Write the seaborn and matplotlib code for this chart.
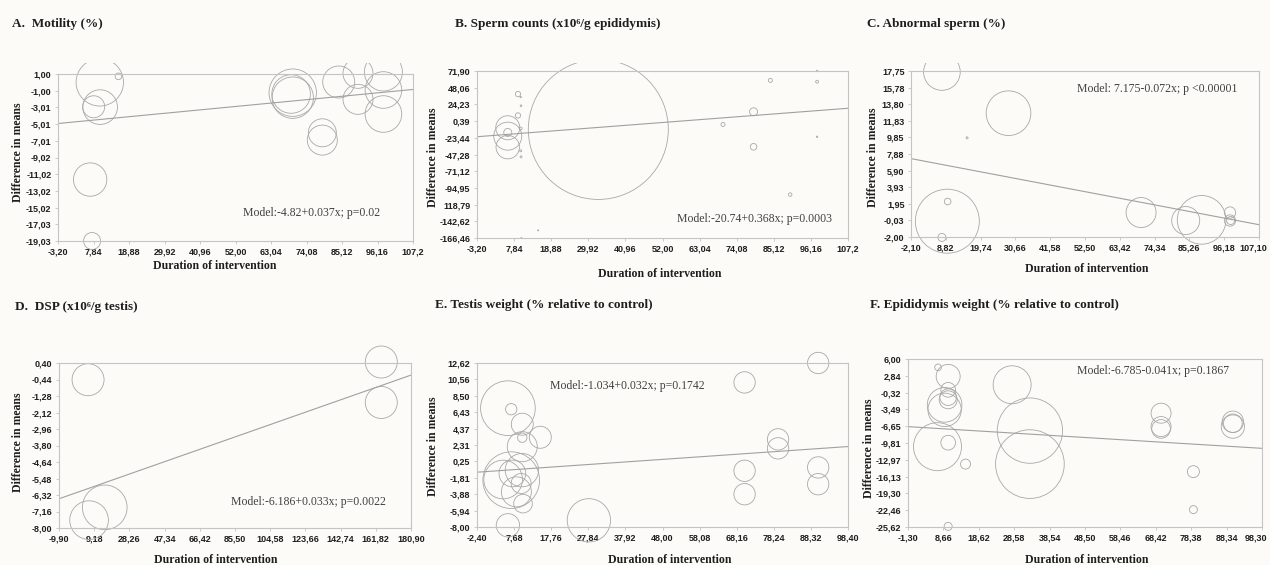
import matplotlib
matplotlib.use("Agg")
import matplotlib.pyplot as plt
import matplotlib.transforms as mtransforms
import numpy as np
import pandas as pd
import seaborn as sns

# ---------------- data ----------------
# A. Motility (%)
a_duration = [9.8, 15.6, 9.9, 7.9, 6.8, 7.4, 69.8, 69.8, 69.3, 79.0, 79.0, 84.1, 90.1, 90.1, 98.0, 98.0, 98.0]
a_diff = [0.0, 0.72, -2.97, -2.93, -11.66, -19.03, -1.24, -1.84, -1.40, -6.05, -6.93, 0.04, 1.08, -2.04, 1.24, -0.92, -3.80]
a_weight = [562, 11, 300, 121, 278, 72, 562, 428, 372, 196, 225, 256, 225, 225, 361, 335, 335]
a_model = (-4.82, 0.037)
a_xlabels = ["-3,20", "7,84", "18,88", "29,92", "40,96", "52,00", "63,04", "74,08", "85,12", "96,16", "107,2"]
a_ylabels = ["1,00", "-1,00", "-3,01", "-5,01", "-7,01", "-9,02", "-11,02", "-13,02", "-15,02", "-17,03", "-19,03"]

# B. Sperm counts
b_duration = [32.9, 5.95, 5.95, 5.95, 5.95, 9.0, 9.8, 9.9, 9.0, 9.8, 9.8, 9.9, 15.0, 10.0, 70.0, 79.1, 79.1, 84.1, 98.0, 98.0, 98.0, 90.0]
b_diff = [-11.5, -9.1, -21.1, -36.8, -15.8, 39.0, 34.7, 22.3, 8.5, -10.1, -42.0, -50.6, -155.5, -166.5, -4.4, 13.7, -36.3, 58.5, 71.9, 56.6, -22.0, -104.5]
b_weight = [4900, 144, 196, 137, 16, 7, 0.5, 0.7, 7, 2, 1, 1, 0.3, 0.3, 4, 16, 11, 4, 0.5, 2, 0.5, 3]
b_model = (-20.74, 0.368)
b_xlabels = ["-3,20", "7,84", "18,88", "29,92", "40,96", "52,00", "63,04", "74,08", "85,12", "96,16", "107,2"]
b_ylabels = ["71,90", "48,06", "24,23", "0,39", "-23,44", "-47,28", "-71,12", "-94,95", "118,79", "-142,62", "-166,46"]

# C. Abnormal sperm (%)
c_duration = [7.6, 28.5, 15.5, 9.3, 9.4, 7.6, 70.1, 84.1, 89.1, 98.0, 98.0, 98.2]
c_diff = [17.63, 12.73, 9.80, -0.12, 2.22, -2.05, 0.91, -0.04, 0.04, 0.91, -0.04, -0.04]
c_weight = [336, 499, 1, 1024, 11, 16, 225, 196, 592, 32, 32, 16]
c_model = (7.175, -0.072)
c_xlabels = ["-2,10", "8,82", "19,74", "30,66", "41,58", "52,50", "63,42", "74,34", "85,26", "96,18", "107,10"]
c_ylabels = ["17,75", "15,78", "13,80", "11,83", "9,85", "7,88", "5,90", "3,93", "1,95", "-0,03", "-2,00"]

# D. DSP
d_duration = [5.85, 164.8, 164.8, 14.9, 6.4]
d_diff = [-0.45, 0.45, -1.61, -6.95, -7.60]
d_weight = [256, 256, 256, 499, 374]
d_model = (-6.186, 0.033)
d_xlabels = ["-9,90", "9,18", "28,26", "47,34", "66,42", "85,50", "104,58", "123,66", "142,74", "161,82", "180,90"]
d_ylabels = ["0,40", "-0,44", "-1,28", "-2,12", "-2,96", "-3,80", "-4,64", "-5,48", "-6,32", "-7,16", "-8,00"]

# E. Testis weight
e_duration = [6.0, 6.9, 9.9, 9.9, 14.8, 9.9, 6.9, 4.7, 7.2, 9.8, 9.6, 8.3, 10.1, 6.0, 28.0,
              70.3, 70.3, 70.3, 79.4, 79.4, 90.3, 90.3, 90.3]
e_diff = [6.94, 6.81, 4.92, 3.23, 3.28, 2.10, -2.11, -2.03, -1.27, -0.85, -2.53, -3.58, -5.06, -7.79, -7.16,
          10.18, -0.93, -3.88, 3.02, 1.89, 12.62, -0.51, -2.62]
e_weight = [747, 32, 121, 22, 121, 225, 803, 374, 178, 278, 100, 225, 87, 136, 469,
            114, 114, 114, 114, 114, 114, 114, 114]
e_model = (-1.034, 0.032)
e_xlabels = ["-2,40", "7,68", "17,76", "27,84", "37,92", "48,00", "58,08", "68,16", "78,24", "88,32", "98,40"]
e_ylabels = ["12,62", "10,56", "8,50", "6,43", "4,37", "2,31", "0,25", "-1,81", "-3,88", "-5,94", "-8,00"]

# F. Epididymis weight
f_duration = [7.15, 10.0, 10.0, 10.0, 10.0, 9.0, 9.0, 7.0, 10.0, 14.9, 10.0, 28.0, 33.0, 33.0,
              69.9, 69.9, 69.9, 79.0, 79.0, 90.1, 90.1, 90.1]
f_diff = [4.43, 2.72, 0.20, -1.18, -1.68, -2.63, -3.57, -10.50, -9.75, -13.78, -25.50, 1.15, -7.48, -13.78,
          -4.20, -6.72, -7.16, -15.20, -22.35, -6.10, -6.72, -5.80]
f_weight = [11, 144, 54, 69, 81, 300, 278, 576, 54, 25, 16, 361, 1067, 1179,
            100, 100, 87, 36, 16, 87, 136, 114]
f_model = (-6.785, -0.041)
f_xlabels = ["-1,30", "8,66", "18,62", "28,58", "38,54", "48,50", "58,46", "68,42", "78,38", "88,34", "98,30"]
f_ylabels = ["6,00", "2,84", "-0,32", "-3,49", "-6,65", "-9,81", "-12,97", "-16,13", "-19,30", "-22,46", "-25,62"]

# ---------------- styling ----------------
sns.set_style("white")
W, H = 1270, 565
BG = "#fcfbf8"
CIRCLE = "#a8a8a8"
LINE = "#a0a0a0"
SPINE = "#c4c4c4"
TXT = "#1e1e1e"
SERIF = ["Liberation Serif", "DejaVu Serif"]
NARROW = ["Liberation Sans Narrow", "Liberation Sans", "DejaVu Sans"]
PX2 = (2 * 72 / 100) ** 2   # marker area (pt^2) per squared radius in px


def fx(px):
    return px / W


def fy(py):
    return 1 - py / H


def to_num(s):
    return float(s.replace(",", "."))


def panel(fig, dur, diff, weight, model, xlabels, ylabels, box, clip,
          title, title_xy, ylabel_xy, xlabel_xy, model_xy, model_txt):
    left, right, top, bottom = box
    ctop, cbot = clip
    xlo, xhi = to_num(xlabels[0]), to_num(xlabels[-1].replace("107,2", "107,20"))
    ytop, ybot = to_num(ylabels[0]), to_num(ylabels[-1])
    upp = (ytop - ybot) / (bottom - top)

    ax = fig.add_axes([fx(left), fy(cbot), (right - left) / W, (cbot - ctop) / H])
    ax.patch.set_visible(False)
    ax.set_xlim(xlo, xhi)
    ax.set_ylim(ybot - (cbot - bottom) * upp, ytop + (top - ctop) * upp)

    df = pd.DataFrame({"dur": dur, "diff": diff, "w": weight})
    sns.scatterplot(data=df, x="dur", y="diff", size="w", sizes=(0, 6000 * PX2),
                    size_norm=(0, 6000), facecolors="none", edgecolor=CIRCLE,
                    linewidth=0.6, legend=False, ax=ax)
    ax.axline((0, model[0]), slope=model[1], color=LINE, lw=0.8)

    for side in ["left", "right", "top", "bottom"]:
        ax.spines[side].set_visible(True)
        ax.spines[side].set_color(SPINE)
        ax.spines[side].set_linewidth(0.8)
    ax.spines["bottom"].set_position(("data", ybot))
    ax.spines["top"].set_position(("data", ytop))
    ax.spines["left"].set_bounds(ybot, ytop)
    ax.spines["right"].set_bounds(ybot, ytop)

    xt = np.linspace(xlo, xhi, len(xlabels))
    yt = np.linspace(ytop, ybot, len(ylabels))
    ax.set_xticks(xt, xlabels, fontsize=6.5, fontweight="bold", family=NARROW, color=TXT)
    ax.set_yticks(yt, ylabels, fontsize=6.5, fontweight="bold", family=NARROW, color=TXT)
    ax.tick_params(axis="both", direction="out", length=2.2, width=0.6, color=SPINE, pad=2.5,
                   bottom=True, left=True, top=False, right=False)
    if right > 1250:
        # nudge the last label left so it stays inside the picture
        lab = ax.get_xticklabels()[-1]
        lab.set_transform(lab.get_transform()
                          + mtransforms.ScaledTranslation(-0.06, 0, fig.dpi_scale_trans))
    ax.set_xlabel("")
    ax.set_ylabel("")

    fig.text(fx(title_xy[0]), fy(title_xy[1]), title, ha="left", va="center",
             fontsize=9.5, fontweight="bold", family=SERIF, color=TXT)
    fig.text(fx(ylabel_xy[0]), fy(ylabel_xy[1]), "Difference in means", rotation=90,
             ha="center", va="center", fontsize=8.5, fontweight="bold", family=SERIF, color=TXT)
    fig.text(fx(xlabel_xy[0]), fy(xlabel_xy[1]), "Duration of intervention",
             ha="center", va="center", fontsize=8.5, fontweight="bold", family=SERIF, color=TXT)
    fig.text(fx(model_xy[0]), fy(model_xy[1]), model_txt, ha="left", va="center",
             fontsize=8.5, family=SERIF, color="#404040")
    return ax


fig = plt.figure(figsize=(12.7, 5.65), dpi=100, facecolor=BG)

panel(fig, a_duration, a_diff, a_weight, a_model, a_xlabels, a_ylabels,
      (58, 413, 74, 241), (63, 262), "A.  Motility (%)", (12, 24), (18, 152), (215, 266),
      (243, 213), "Model:-4.82+0.037x; p=0.02")
panel(fig, b_duration, b_diff, b_weight, b_model, b_xlabels, b_ylabels,
      (477, 848, 71, 238), (63, 262), "B. Sperm counts (x10\u2076/g epididymis)", (455, 24), (433, 157),
      (660, 274), (677, 219), "Model:-20.74+0.368x; p=0.0003")
panel(fig, c_duration, c_diff, c_weight, c_model, c_xlabels, c_ylabels,
      (911, 1259, 71, 237), (63, 262), "C. Abnormal sperm (%)", (867, 24), (873, 157),
      (1087, 269), (1077, 89), "Model: 7.175-0.072x; p <0.00001")
panel(fig, d_duration, d_diff, d_weight, d_model, d_xlabels, d_ylabels,
      (59, 411, 363, 528), (345, 550), "D.  DSP (x10\u2076/g testis)", (15, 307), (18, 442),
      (216, 560), (231, 502), "Model:-6.186+0.033x; p=0.0022")
panel(fig, e_duration, e_diff, e_weight, e_model, e_xlabels, e_ylabels,
      (477, 848, 363, 527), (351, 550), "E. Testis weight (% relative to control)", (435, 305), (433, 446),
      (670, 560), (550, 386), "Model:-1.034+0.032x; p=0.1742")
panel(fig, f_duration, f_diff, f_weight, f_model, f_xlabels, f_ylabels,
      (908, 1262, 359, 527), (350, 550), "F. Epididymis weight (% relative to control)", (870, 305), (869, 448),
      (1087, 560), (1077, 371), "Model:-6.785-0.041x; p=0.1867")

fig.savefig("out.png", dpi=100, facecolor=BG)
